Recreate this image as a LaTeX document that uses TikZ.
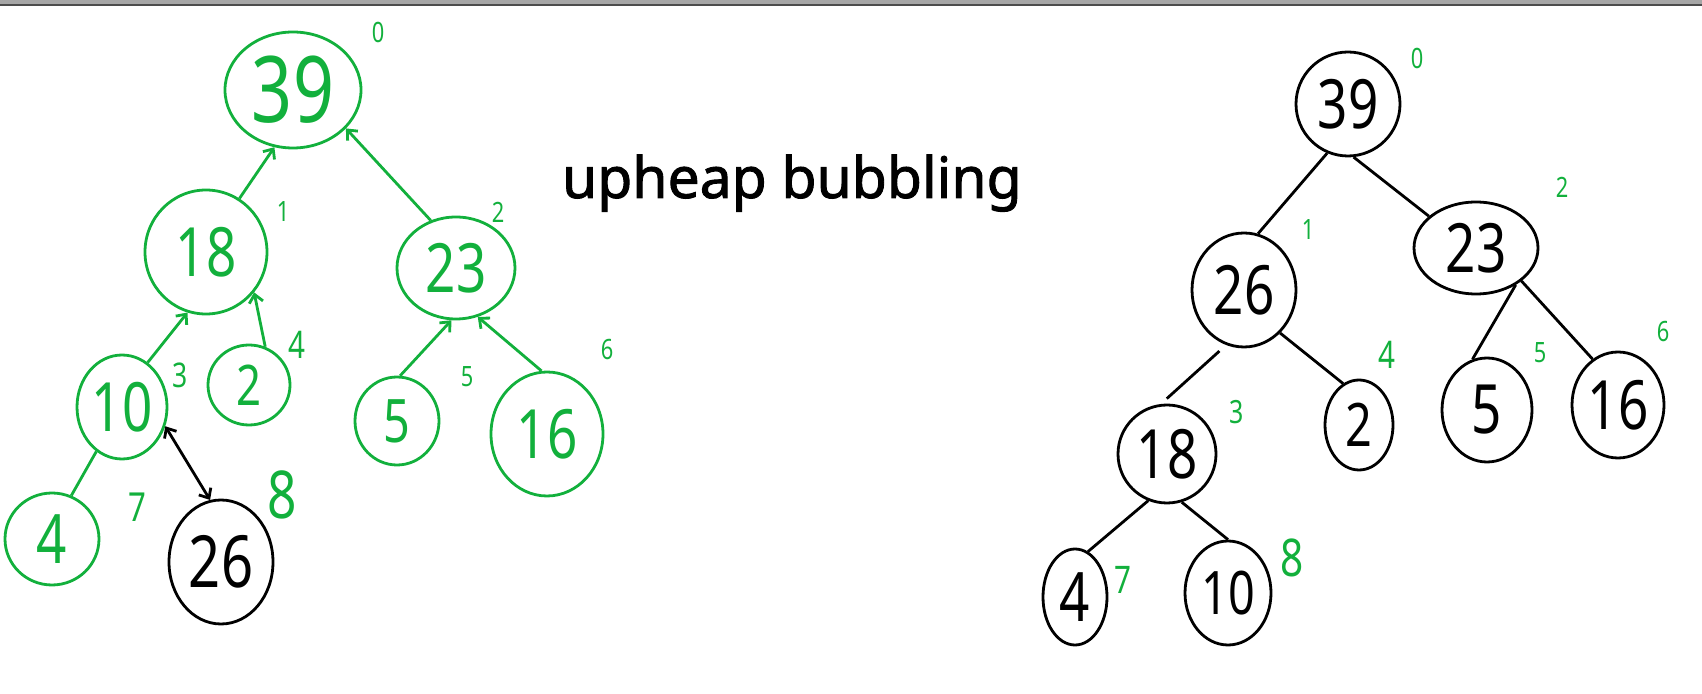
\documentclass[tikz,border=0pt]{standalone}
\usepackage{fontspec}
\setmainfont{Noto Sans}
\newfontfamily\handfont[FakeStretch=0.78]{Noto Sans}
\newfontfamily\titlefont[FakeBold=1.6]{Noto Sans}
\usetikzlibrary{shapes.geometric,arrows.meta}
\definecolor{pengreen}{RGB}{18,176,60}
\definecolor{barbg}{RGB}{166,166,166}

\begin{document}
\begin{tikzpicture}[x=0.5pt,y=-0.5pt]
    \useasboundingbox (0,0) rectangle (1702,694);
    \fill[barbg] (0,0) rectangle (1702,5);
    \draw[black!70, line width=0.6pt] (0,5) -- (1702,5);

    \tikzset{key/.style={ellipse, draw, line width=1.4pt, inner sep=0pt,
                         font=\handfont\fontsize{#1}{#1}\selectfont},
             key/.default=34,
             wh/.style 2 args={minimum width=#1pt, minimum height=#2pt},
             done/.style={key=#1, draw=pengreen, text=pengreen},
             done/.default=34,
             idx/.style={text=pengreen, inner sep=0pt,
                         font=\handfont\fontsize{#1}{#1}\selectfont},
             idx/.default=14,
             link/.style={line width=1.4pt},
             barb/.tip={Straight Barb[length=4pt,width=7pt]},
             up/.style={link, pengreen, barb-}}

    % left heap, 26 just inserted at index 8
    \node[done=46, wh={68}{58}] (L39) at (293,90) {39};
    \node[done, wh={61}{62}] (L18) at (206,252) {18};
    \node[done, wh={59}{51}] (L23) at (456,268) {23};
    \node[done, wh={45}{52}] (L10) at (122,407) {10};
    \node[done=28, wh={41}{40}] (L2) at (249,385) {2};
    \node[done=30, wh={42}{44}] (L5) at (397,421) {5};
    \node[done, wh={56}{62}] (L16) at (547,434) {16};
    \node[done, wh={47}{46}] (L4) at (52,539) {4};
    \node[key=36, wh={52}{62}] (L26) at (221,562) {26};

    \node[idx] (li0) at (378,32) {0};
    \node[idx] (li1) at (283,212) {1};
    \node[idx] (li2) at (498,212) {2};
    \node[idx=17] (li3) at (180,375) {3};
    \node[idx=19] (li4) at (297,345) {4};
    \node[idx] (li5) at (467,377) {5};
    \node[idx] (li6) at (607,350) {6};
    \node[idx=20] (li7) at (137,507) {7};
    \node[idx=33] (li8) at (282,495) {8};

    \draw[up] (L39.-108) -- (L18.58);
    \draw[up] (L39.-36) -- (L23.118);
    \draw[up] (L18.-107) -- (L10.60);
    \draw[up] (L18.-40) -- (L2.67);
    \draw[up] (L23.-95) -- (L5.86);
    \draw[up] (L23.-66) -- (L16.95);
    \draw[link, pengreen] (L10.-120) -- (L4.66);
    \draw[link, barb-barb] (L10.-24) -- (L26.100);

    \node[anchor=base west, font=\titlefont\fontsize{28.5}{34}\selectfont] (title) at (555,198) {upheap bubbling};

    % right heap after bubbling up
    \node[key, wh={52}{52}] (R39) at (1348,104) {39};
    \node[key, wh={52}{57}] (R26) at (1244,290) {26};
    \node[key, wh={62}{46}] (R23) at (1476,248) {23};
    \node[key, wh={49}{49}] (R18) at (1167,454) {18};
    \node[key=30, wh={34}{45}] (R2) at (1359,425) {2};
    \node[key, wh={45}{52}] (R5) at (1487,410) {5};
    \node[key, wh={46}{53}] (R16) at (1618,405) {16};
    \node[key, wh={32}{48}] (R4) at (1075,597) {4};
    \node[key=30, wh={43}{52}] (R10) at (1228,593) {10};

    \node[idx] (ri0) at (1417,58) {0};
    \node[idx] (ri1) at (1308,230) {1};
    \node[idx] (ri2) at (1562,187) {2};
    \node[idx=16] (ri3) at (1237,412) {3};
    \node[idx=19] (ri4) at (1387,355) {4};
    \node[idx] (ri5) at (1540,353) {5};
    \node[idx] (ri6) at (1663,332) {6};
    \node[idx=19] (ri7) at (1123,580) {7};
    \node[idx=26] (ri8) at (1292,558) {8};

    \draw[link] (R39.-113) -- (R26.76);
    \draw[link] (R39.-84) -- (R23.146);
    \draw[link, shorten <=4.5pt, shorten >=4pt] (R26.-108) -- (R18.97);
    \draw[link] (R26.-50) -- (R2.111);
    \draw[link] (R23.-43) -- (R5.106);
    \draw[link] (R23.-36) -- (R16.119);
    \draw[link] (R18.-112) -- (R4.74);
    \draw[link] (R18.-73) -- (R10.90);

\end{tikzpicture}
\end{document}
